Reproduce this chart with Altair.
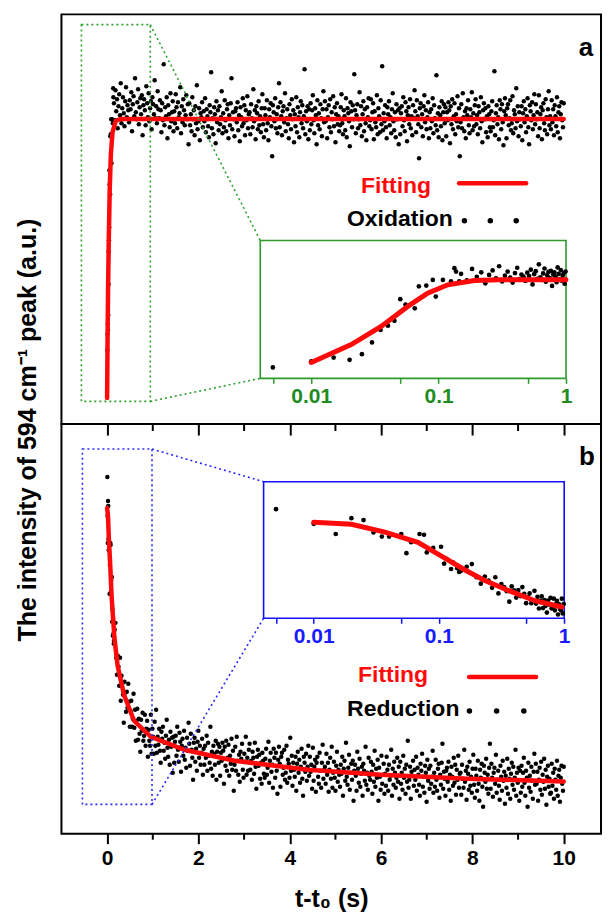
import altair as alt
import numpy as np
import pandas as pd

# ---------------- data (arbitrary intensity units) ----------------
# uniformly sampled part of each trace, t from 0.15 s to 10 s
GRID_START, GRID_END = 0.15, 10.0

OX_VALUES = [
    321, 304, 334, 313, 325, 296, 318, 330, 309, 341, 301, 316, 327, 311, 298, 323, 337, 307, 319, 314,
    302, 324, 315, 332, 293, 320, 328, 308, 346, 312, 305, 322, 335, 300, 317, 326, 310, 329, 289, 319,
    325, 314, 299, 338, 321, 307, 331, 303, 316, 323, 295, 327, 320, 310, 344, 306, 318, 301, 333, 315,
    306, 324, 314, 292, 321, 304, 360, 299, 317, 308, 327, 286, 319, 310, 297, 331, 303, 312, 323, 293,
    313, 301, 330, 317, 296, 322, 307, 311, 337, 291, 318, 302, 325, 314, 299, 309, 329, 305, 320, 280,
    321, 299, 310, 293, 327, 305, 314, 289, 318, 301, 339, 295, 303, 316, 284, 311, 307, 322, 297, 313,
    303, 326, 292, 315, 308, 298, 287, 319, 312, 352, 296, 306, 290, 317, 310, 281, 323, 302, 314, 294,
    318, 300, 307, 333, 291, 311, 297, 324, 304, 293, 315, 320, 286, 309, 299, 321, 346, 295, 312, 305,
    288, 313, 316, 302, 322, 294, 309, 283, 317, 307, 298, 326, 301, 319, 289, 314, 304, 328, 296, 310,
    312, 290, 320, 306, 297, 335, 303, 314, 285, 318, 311, 295, 323, 299, 308, 292, 316, 330, 300, 287,
    316, 309, 294, 324, 301, 284, 315, 307, 321, 298, 268, 319, 312, 303, 326, 296, 310, 291, 317, 341,
    297, 322, 308, 289, 313, 318, 302, 331, 293, 306, 315, 300, 286, 320, 309, 295, 325, 305, 314, 282,
    310, 298, 327, 292, 317, 307, 287, 312, 323, 301, 319, 296, 308, 355, 290, 313, 303, 318, 285, 315,
    294, 321, 300, 314, 329, 304, 291, 316, 309, 280, 324, 299, 311, 295, 320, 306, 288, 315, 333, 302,
    323, 303, 315, 286, 307, 319, 297, 325, 292, 312, 305, 328, 298, 317, 282, 310, 321, 300, 308, 293,
    299, 317, 330, 301, 290, 314, 308, 294, 326, 287, 316, 311, 303, 278, 322, 313, 297, 319, 305, 350,
    314, 291, 309, 320, 296, 305, 332, 299, 318, 288, 310, 323, 293, 315, 301, 284, 317, 307, 326, 298,
    304, 325, 295, 312, 321, 285, 313, 302, 297, 329, 290, 316, 308, 292, 324, 300, 358, 294, 311, 303,
    319, 297, 286, 317, 310, 323, 299, 307, 291, 315, 331, 303, 294, 312, 287, 320, 305, 314, 280, 316,
    290, 311, 318, 298, 327, 304, 293, 322, 313, 283, 309, 317, 300, 325, 296, 308, 289, 319, 306, 334,
    313, 292, 324, 308, 300, 266, 316, 321, 297, 310, 288, 318, 329, 302, 314, 295, 307, 322, 286, 312,
    296, 315, 303, 326, 291, 319, 306, 299, 349, 294, 311, 287, 317, 309, 298, 323, 284, 312, 320, 301,
    317, 288, 312, 304, 322, 314, 281, 318, 300, 325, 295, 308, 321, 290, 310, 303, 328, 297, 316, 268,
    302, 320, 296, 331, 307, 293, 313, 286, 316, 309, 324, 299, 291, 315, 307, 332, 294, 311, 298, 319,
    325, 300, 309, 290, 318, 312, 296, 327, 303, 282, 314, 321, 305, 316, 292, 308, 287, 318, 310, 297,
    293, 313, 323, 297, 304, 353, 289, 311, 319, 300, 307, 285, 324, 315, 295, 320, 302, 279, 313, 326,
    309, 286, 316, 320, 299, 306, 324, 294, 301, 328, 291, 314, 310, 296, 336, 303, 318, 288, 312, 305,
    298, 318, 284, 311, 323, 302, 315, 292, 308, 326, 297, 280, 319, 313, 304, 322, 295, 309, 330, 300,
    320, 305, 312, 288, 329, 296, 310, 317, 285, 314, 321, 301, 294, 325, 307, 290, 315, 333, 299, 308,
    295, 324, 302, 315, 289, 319, 308, 298, 327, 292, 312, 318, 286, 310, 322, 304, 297, 321,
]

RED_VALUES = [
    193, 204, 211, 176, 159, 178, 167, 148, 176, 133, 158, 150, 139, 111, 152, 141, 122, 142, 126, 150,
    132, 107, 123, 133, 107, 115, 140, 106, 124, 93, 113, 125, 94, 115, 100, 82, 114, 103, 121, 93,
    98, 119, 88, 105, 113, 77, 104, 93, 88, 119, 80, 105, 97, 80, 112, 88, 124, 81, 97, 89,
    105, 83, 71, 102, 95, 107, 83, 91, 75, 98, 114, 86, 77, 94, 69, 102, 87, 96, 61, 97,
    71, 92, 98, 78, 107, 84, 72, 101, 92, 62, 88, 95, 78, 103, 74, 86, 66, 96, 83, 111,
    90, 68, 100, 84, 76, 54, 91, 96, 72, 85, 63, 92, 103, 76, 88, 69, 81, 95, 59, 85,
    69, 88, 76, 98, 63, 91, 78, 71, 107, 65, 82, 58, 88, 80, 69, 93, 54, 82, 90, 71,
    87, 58, 81, 73, 91, 83, 50, 87, 68, 93, 63, 76, 89, 58, 78, 70, 95, 64, 83, 43,
    69, 87, 63, 97, 73, 59, 79, 52, 82, 75, 90, 64, 56, 80, 72, 97, 59, 76, 63, 84,
    90, 64, 73, 54, 82, 76, 60, 91, 67, 45, 77, 84, 68, 79, 55, 71, 50, 81, 73, 60,
    56, 75, 85, 59, 66, 92, 51, 73, 81, 62, 69, 46, 85, 76, 56, 81, 63, 40, 74, 87,
    70, 47, 77, 81, 59, 66, 84, 54, 61, 88, 51, 74, 70, 56, 96, 63, 78, 48, 71, 64,
    57, 77, 43, 70, 82, 61, 74, 51, 67, 85, 55, 38, 77, 71, 62, 80, 53, 67, 88, 58,
    77, 62, 69, 45, 86, 53, 67, 74, 42, 71, 77, 57, 50, 81, 63, 46, 71, 89, 55, 64,
    67, 50, 80, 59, 71, 42, 64, 76, 55, 87, 46, 61, 72, 56, 43, 68, 82, 52, 64, 59,
    47, 69, 60, 77, 38, 65, 73, 53, 91, 57, 49, 66, 79, 44, 61, 70, 54, 73, 33, 63,
    69, 58, 43, 82, 65, 51, 75, 47, 60, 67, 38, 70, 63, 53, 87, 49, 61, 44, 76, 58,
    54, 72, 62, 40, 69, 52, 83, 47, 65, 56, 74, 33, 66, 57, 44, 78, 50, 59, 70, 40,
    60, 48, 77, 64, 43, 69, 54, 58, 84, 38, 65, 49, 72, 61, 46, 56, 76, 52, 67, 35,
    72, 50, 61, 44, 78, 56, 65, 40, 69, 52, 93, 46, 54, 67, 35, 62, 58, 73, 48, 64,
    54, 77, 43, 66, 59, 49, 38, 70, 63, 80, 47, 57, 41, 68, 61, 32, 74, 53, 65, 45,
    68, 50, 57, 83, 41, 61, 47, 74, 54, 43, 65, 70, 36, 59, 49, 71, 90, 45, 62, 55,
    38, 63, 66, 52, 72, 44, 59, 33, 67, 57, 48, 76, 51, 69, 39, 64, 54, 78, 46, 60,
    61, 39, 69, 55, 46, 84, 52, 63, 34, 67, 60, 44, 72, 48, 57, 41, 65, 79, 49, 36,
    65, 58, 43, 73, 50, 33, 64, 56, 70, 47, 27, 68, 61, 52, 75, 45, 59, 40, 66, 90,
    45, 70, 56, 37, 61, 66, 50, 79, 41, 54, 63, 48, 34, 68, 57, 43, 73, 53, 62, 30,
    58, 46, 75, 40, 65, 55, 35, 60, 71, 49, 67, 44, 56, 84, 38, 61, 51, 66, 33, 63,
    41, 68, 47, 61, 76, 51, 38, 63, 56, 27, 71, 46, 58, 42, 67, 53, 35, 62, 80, 49,
    70, 50, 62, 33, 54, 66, 44, 72, 39, 59, 52, 75, 45, 64, 29, 57, 68, 47, 55, 40,
    41, 70, 48, 61, 35, 65, 54, 44, 73, 38, 58, 64, 32, 56, 68, 50, 43, 67,
]

# early (t < 0.15 s) points
OX_EARLY_T = [0.005, 0.01, 0.015, 0.02, 0.025, 0.03, 0.035, 0.04, 0.045, 0.05, 0.055,
              0.065, 0.07, 0.08, 0.09, 0.095, 0.108, 0.125, 0.133, 0.137, 0.145]
OX_EARLY_V = [74, 90, 100, 94, 109, 140, 173, 184, 197, 254, 240,
              230, 288, 290, 305, 261, 305, 301, 336, 327, 301]
RED_EARLY_T = [0.005, 0.01, 0.015, 0.02, 0.025, 0.03, 0.035, 0.04, 0.05, 0.055, 0.06,
               0.07, 0.076, 0.08, 0.09, 0.104, 0.11, 0.115, 0.125, 0.13, 0.14, 0.145]
RED_EARLY_V = [357, 318, 291, 333, 328, 295, 284, 284, 291, 240, 269,
               291, 289, 242, 254, 257, 212, 225, 198, 215, 200, 190]

# fitted curves
OX_FIT_T = [0, 0.01, 0.0206, 0.0354, 0.0573, 0.082, 0.118, 0.191, 0.3, 1, 10]
OX_FIT_V = [26, 87, 134, 182, 235, 270, 292, 303.6, 305.2, 305.4, 305.4]
RED_FIT_T = [0, 0.01, 0.02, 0.037, 0.068, 0.1, 0.16, 0.23, 0.37, 0.59, 0.96,
             1.69, 2.79, 4.4, 6.0, 7.9, 10]
RED_FIT_V = [326, 322, 317, 296, 269, 236, 196, 168, 139, 113, 97,
             84, 73, 64, 59, 55, 52.3]

MAJOR_TICKS = [0, 2, 4, 6, 8, 10]
MINOR_TICKS = [1, 3, 5, 7, 9]
INSET_TICKS = [0.005, 0.01, 0.05, 0.1, 0.5, 1]
INSET_XDOM = [10 ** -2.4, 1]

# ---------------- layout ----------------
W, H = 540, 410
XDOM = [-1.0, 10.816]
YDOM = [0, 410]
FONT = "Liberation Sans"
RED = "#ff0a0a"


def sx(x):
    return (x - XDOM[0]) / (XDOM[1] - XDOM[0]) * W


def sy(v):
    return H - (v - YDOM[0]) / (YDOM[1] - YDOM[0]) * H


def points_df(early_t, early_v, values):
    t = list(early_t) + list(np.linspace(GRID_START, GRID_END, len(values)))
    v = list(early_v) + list(values)
    return pd.DataFrame({"t": t, "v": v})


AXIS_A = alt.Axis(orient="bottom", values=MAJOR_TICKS, labels=False, domain=False, grid=False,
                  tickSize=11, tickWidth=2, tickColor="black", title=None)
AXIS_B = alt.Axis(orient="bottom", values=MAJOR_TICKS, domain=False, grid=False,
                  tickSize=10, tickWidth=2, tickColor="black",
                  labelFont=FONT, labelFontSize=21, labelFontWeight="bold", labelColor="black",
                  labelPadding=4, labelFlush=False, labelOverlap=False,
                  title="t-t\u2080 (s)", titleFont=FONT, titleFontSize=25, titleFontWeight="bold",
                  titleColor="black", titlePadding=18)


def text_layer(txt, x, y, size, color="black", align="left", baseline="alphabetic", angle=0):
    return alt.Chart(alt.InlineData(values=[{"k": 1}])).mark_text(
        text=txt, font=FONT, fontSize=size, fontWeight="bold", color=color,
        align=align, baseline=baseline, angle=angle
    ).encode(x=alt.value(x), y=alt.value(y))


def rule_layer(x, x2, y, color, width, dash=None):
    kw = dict(color=color, strokeWidth=width, strokeCap="round")
    if dash is not None:
        kw["strokeDash"] = dash
    return alt.Chart(alt.InlineData(values=[{"k": 1}])).mark_rule(**kw).encode(
        x=alt.value(x), x2=alt.value(x2), y=alt.value(y))


def make_panel(pts, fit_t, fit_v, zoom_box, inset_box, inset_ydom, frame_col, label_col,
               dot_col, axis_main, minor_len, extra):
    fit = pd.DataFrame({"t": fit_t, "v": fit_v})
    minor = pd.DataFrame({"t": MINOR_TICKS})
    scx = alt.Scale(domain=XDOM, nice=False, zero=False)
    scy = alt.Scale(domain=YDOM, nice=False, zero=False)
    X = lambda: alt.X("t:Q", scale=scx, axis=axis_main)
    Y = lambda: alt.Y("v:Q", scale=scy, axis=None)

    zx0, zx1, zy0, zy1 = zoom_box
    ix0, ix1, iy0, iy1 = inset_box
    box = pd.DataFrame({"t": [zx0], "t2": [zx1], "v": [zy0], "v2": [zy1]})
    conn = pd.DataFrame({"t": [zx1, zx1], "v": [zy1, zy0], "t2": [ix0, ix0], "v2": [iy1, iy0]})

    main = alt.layer(
        alt.Chart(pts).mark_circle(size=20, color="black", opacity=1).encode(x=X(), y=Y()),
        alt.Chart(fit).mark_line(color=RED, strokeWidth=4.5, strokeCap="round").encode(x=X(), y=Y()),
        alt.Chart(box).mark_rect(fillOpacity=0, stroke=dot_col, strokeWidth=1.6, strokeDash=[2, 3]).encode(
            x=X(), x2="t2", y=Y(), y2="v2"),
        alt.Chart(conn).mark_rule(color=dot_col, strokeWidth=1.6, strokeDash=[2, 3]).encode(
            x=X(), y=Y(), x2="t2", y2="v2"),
        alt.Chart(minor).mark_rule(color="black", strokeWidth=2).encode(
            x=X(), y=alt.value(H), y2=alt.value(H + minor_len)),
        *extra,
    )

    iscx = alt.Scale(type="log", domain=INSET_XDOM, range=[sx(ix0), sx(ix1)], nice=False)
    iscy = alt.Scale(domain=list(inset_ydom), range=[sy(iy0), sy(iy1)], nice=False, zero=False)
    iaxis = alt.Axis(orient="bottom", offset=-(H - sy(iy0)), values=INSET_TICKS,
                     labelExpr="datum.value == 0.01 ? '0.01' : datum.value == 0.1 ? '0.1' : datum.value == 1 ? '1' : ''",
                     domain=False, grid=False, tickSize=5, tickWidth=1.5, tickColor=frame_col,
                     labelFont=FONT, labelFontSize=21, labelFontWeight="bold", labelColor=label_col,
                     labelPadding=2, labelFlush=False, labelOverlap=False, title=None)
    IX = lambda: alt.X("t:Q", scale=iscx, axis=iaxis)
    IY = lambda: alt.Y("v:Q", scale=iscy, axis=None)
    frame = pd.DataFrame({"t": [INSET_XDOM[0]], "t2": [INSET_XDOM[1]],
                          "v": [inset_ydom[0]], "v2": [inset_ydom[1]]})
    inset = alt.layer(
        alt.Chart(frame).mark_rect(fill="white", stroke=frame_col, strokeWidth=1.6).encode(
            x=IX(), x2="t2", y=IY(), y2="v2"),
        alt.Chart(pts).transform_filter("datum.t <= 1").mark_circle(size=22, color="black", opacity=1).encode(
            x=IX(), y=IY()),
        alt.Chart(fit).transform_filter("datum.t >= 0.01 && datum.t <= 1").mark_line(
            color=RED, strokeWidth=5, strokeCap="round").encode(x=IX(), y=IY()),
    )
    return alt.layer(main, inset).resolve_scale(x="independent", y="independent").properties(
        width=W, height=H, view=alt.ViewBackground(stroke="black", strokeWidth=2))


pts_a = points_df(OX_EARLY_T, OX_EARLY_V, OX_VALUES)
pts_b = points_df(RED_EARLY_T, RED_EARLY_V, RED_VALUES)

extra_a = [
    text_layer("The intensity of 594 cm\u207b\u00b9 peak (a.u.)", -33, H + 6, 25, baseline="middle",
               align="center", angle=270),
    text_layer("a", 525, 41.3, 26, align="center"),
    text_layer("Fitting", 370, 179, 23, color=RED, align="right"),
    rule_layer(398, 465, 169, RED, 4.5),
    text_layer("Oxidation", 391.7, 212.3, 23, align="right"),
    rule_layer(403.3, 457, 206.6, "black", 5.5, dash=[0.01, 25.9]),
]
extra_b = [
    text_layer("b", 526, 40.6, 26, align="center"),
    text_layer("Fitting", 367, 258, 23, color=RED, align="right"),
    rule_layer(408, 475, 253.3, RED, 4.5),
    text_layer("Reduction", 398.3, 292.3, 23, align="right"),
    rule_layer(408.3, 464, 287.3, "black", 5.5, dash=[0.01, 27.2]),
]

panel_a = make_panel(pts_a, OX_FIT_T, OX_FIT_V,
                     zoom_box=(-0.563, 0.946, 22.7, 399.7), inset_box=(3.354, 10.05, 45.7, 183.7),
                     inset_ydom=(45, 409), frame_col="#2e9a2e", label_col="#1e8c1e",
                     dot_col="#2ea02e", axis_main=AXIS_A, minor_len=7, extra=extra_a)
panel_b = make_panel(pts_b, RED_FIT_T, RED_FIT_V,
                     zoom_box=(-0.541, 0.983, 29.3, 385.0), inset_box=(3.427, 10.01, 215.6, 352.3),
                     inset_ydom=(67, 430), frame_col="#1010ff", label_col="#1a1aff",
                     dot_col="#2b2bff", axis_main=AXIS_B, minor_len=6, extra=extra_b)

chart = alt.vconcat(panel_a, panel_b, spacing=0, bounds="flush").properties(
    padding={"left": 6.5, "top": 5, "right": 0, "bottom": 0}
).configure_view(stroke="black", strokeWidth=2).configure(font=FONT)

chart.save("out.html", embed_options={"renderer": "svg", "actions": False})
